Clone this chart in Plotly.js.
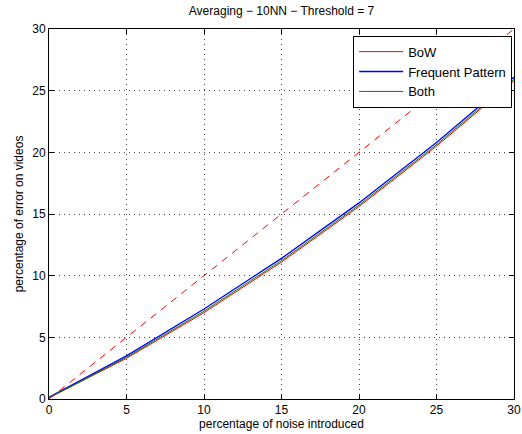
<!DOCTYPE html>
<html><head><meta charset="utf-8">
<script src="https://cdn.plot.ly/plotly-3.0.1.min.js"></script>
<style>body{margin:0;background:#fff}#c{width:522px;height:434px}</style>
</head><body><div id="c"></div>
<script>
const noise = [0, 5, 10, 15, 20, 25, 30];
const bow = [0.1, 3.3, 7.0, 11.1, 15.6, 20.5, 25.8];
const freqPattern = [0.15, 3.5, 7.3, 11.4, 15.9, 20.8, 26.1];
const both = [0.1, 3.38, 7.12, 11.22, 15.72, 20.62, 25.92];
const refX = [0, 30];
const refY = [0, 30];
const font = {family: 'Liberation Sans, Arial, sans-serif', color: '#000'};
const traces = [
  {x: noise, y: bow, name: 'BoW', mode: 'lines', line: {color: '#ff0000', width: 1}},
  {x: noise, y: freqPattern, name: 'Frequent Pattern', mode: 'lines', line: {color: '#0000ff', width: 1.3}},
  {x: noise, y: both, name: 'Both', mode: 'lines', line: {color: '#008000', width: 1}},
  {x: refX, y: refY, name: 'ref', mode: 'lines', showlegend: false, line: {color: '#ff0000', width: 1, dash: '7px,6px'}}
];
const ax = {
  range: [0, 30], dtick: 5, showgrid: true, gridcolor: '#444', griddash: '1px,4px', gridwidth: 1,
  zeroline: false, showline: true, linecolor: '#000', linewidth: 1, mirror: 'ticks',
  ticks: 'inside', ticklen: 5, tickcolor: '#000', tickfont: {size: 12, ...font}, ticklabeloverflow: 'allow'
};
Plotly.newPlot('c', traces, {
  width: 522, height: 434,
  margin: {l: 49, r: 8, t: 29, b: 35},
  paper_bgcolor: '#fff', plot_bgcolor: '#fff',
  font: font,
  title: {text: 'Averaging \u2212 10NN \u2212 Threshold = 7', font: {size: 12, ...font}, xref: 'paper', x: 0.5, y: 0.985, yanchor: 'top'},
  xaxis: {...ax, title: {text: 'percentage of noise introduced', font: {size: 12, ...font}, standoff: 3}},
  yaxis: {...ax, title: {text: 'percentage of error on videos', font: {size: 12, ...font}, standoff: 6}},
  legend: {x: 0.996, y: 0.982, xanchor: 'right', yanchor: 'top', bgcolor: '#fff', bordercolor: '#000', borderwidth: 1,
    font: {size: 13, ...font}, tracegroupgap: 0, itemwidth: 44},
  showlegend: true
}, {displayModeBar: false, staticPlot: true});
</script></body></html>
